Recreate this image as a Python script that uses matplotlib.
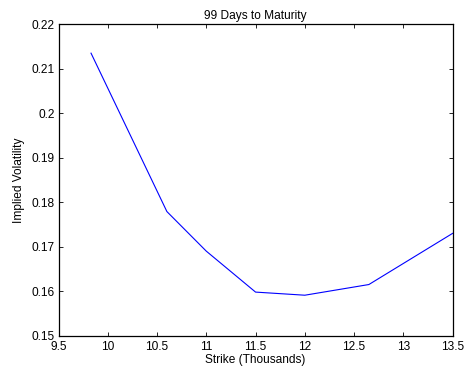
import numpy as np
import matplotlib
matplotlib.use('Agg')
import matplotlib.pyplot as plt

plt.rcParams['font.family'] = ['Liberation Sans', 'DejaVu Sans']
plt.rcParams['font.size'] = 8.6

# strike in thousands, implied vol
strikes = [9.83, 10.6, 11.0, 11.5, 12.0, 12.65, 13.5]
implied_vol = [0.2135, 0.1779, 0.1690, 0.1598, 0.1591, 0.1615, 0.1730]

xticks = [9.5, 10, 10.5, 11, 11.5, 12, 12.5, 13, 13.5]
xticklabels = ['9.5', '10', '10.5', '11', '11.5', '12', '12.5', '13', '13.5']
yticks = [0.15, 0.16, 0.17, 0.18, 0.19, 0.2, 0.21, 0.22]
yticklabels = ['0.15', '0.16', '0.17', '0.18', '0.19', '0.2', '0.21', '0.22']

fig = plt.figure(figsize=(4.7, 3.73), dpi=100)
ax = fig.add_axes([0.1245, 0.1, 0.8385, 0.835])

ax.plot(strikes, implied_vol, color='#0000ff', linewidth=0.8)

ax.set_xlim(9.5, 13.5)
ax.set_ylim(0.15, 0.22)
ax.set_xticks(xticks)
ax.set_xticklabels(xticklabels)
ax.set_yticks(yticks)
ax.set_yticklabels(yticklabels)

ax.tick_params(direction='in', top=True, right=True, length=3, width=0.6)
ax.tick_params(axis='x', pad=3.5)
ax.tick_params(axis='y', pad=2.5)
for s in ax.spines.values():
    s.set_linewidth(0.9)

ax.set_title('99 Days to Maturity', fontsize=8.6, pad=4)
ax.set_xlabel('Strike (Thousands)', labelpad=1)
ax.set_ylabel('Implied Volatility', labelpad=5)

fig.savefig('out.png', dpi=100)
plt.close()
